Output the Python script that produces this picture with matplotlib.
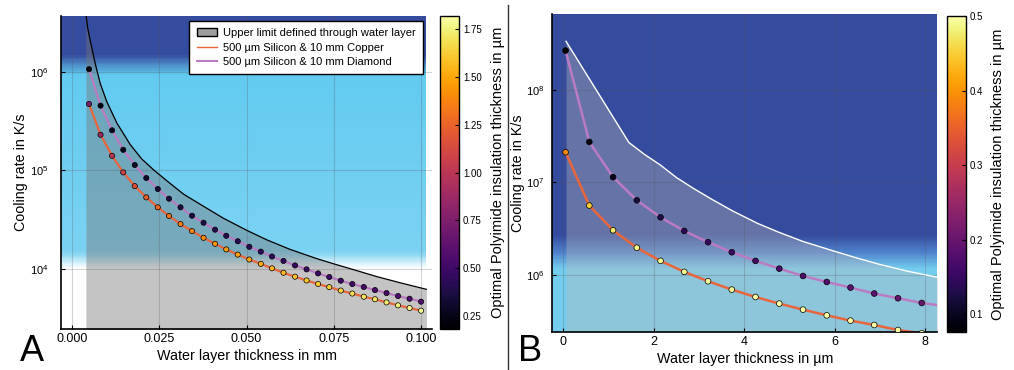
import numpy as np
import matplotlib
matplotlib.use("Agg")
import matplotlib.pyplot as plt
from matplotlib.colors import LinearSegmentedColormap, Normalize
from matplotlib.cm import ScalarMappable
from matplotlib.lines import Line2D
from matplotlib.patches import Patch
from matplotlib.ticker import NullLocator, FormatStrFormatter

plt.rcParams["font.family"] = ["Liberation Sans", "DejaVu Sans"]
plt.rcParams["mathtext.default"] = "regular"

COPPER_COLOR = "#e9653b"
DIAMOND_COLOR = "#bb7bc3"
DARK_BLUE = "#354b9e"

# ---- panel A: water layer thickness in mm ----
A_X = [0.0049, 0.0082, 0.0115, 0.0147, 0.0180, 0.0213, 0.0246, 0.0278, 0.0311, 0.0344,
       0.0377, 0.0410, 0.0442, 0.0475, 0.0508, 0.0541, 0.0573, 0.0606, 0.0639, 0.0672,
       0.0705, 0.0737, 0.0770, 0.0803, 0.0836, 0.0868, 0.0901, 0.0934, 0.0967, 0.1000]
A_DIAMOND = [1.06e6, 4.52e5, 2.54e5, 1.61e5, 1.13e5, 8.33e4, 6.44e4, 5.14e4, 4.20e4, 3.45e4,
             2.93e4, 2.49e4, 2.16e4, 1.90e4, 1.67e4, 1.49e4, 1.33e4, 1.20e4, 1.08e4, 9.85e3,
             8.97e3, 8.24e3, 7.56e3, 6.99e3, 6.52e3, 6.07e3, 5.66e3, 5.28e3, 4.96e3, 4.63e3]
A_COPPER = [4.70e5, 2.29e5, 1.40e5, 9.50e4, 6.90e4, 5.30e4, 4.20e4, 3.43e4, 2.84e4, 2.41e4,
            2.06e4, 1.79e4, 1.57e4, 1.39e4, 1.24e4, 1.12e4, 1.01e4, 9.10e3, 8.30e3, 7.60e3,
            7.00e3, 6.50e3, 6.00e3, 5.60e3, 5.20e3, 4.90e3, 4.55e3, 4.25e3, 3.99e3, 3.75e3]
A_DIAMOND_INS = [0.20, 0.22, 0.24, 0.26, 0.29, 0.31, 0.33, 0.35, 0.36, 0.37,
                 0.38, 0.39, 0.40, 0.41, 0.42, 0.43, 0.44, 0.45, 0.46, 0.47,
                 0.48, 0.49, 0.50, 0.51, 0.52, 0.53, 0.54, 0.55, 0.56, 0.57]
A_COPPER_INS = [0.72, 0.87, 1.00, 1.08, 1.15, 1.22, 1.27, 1.31, 1.35, 1.38,
                1.41, 1.44, 1.46, 1.48, 1.50, 1.52, 1.54, 1.56, 1.58, 1.60,
                1.62, 1.64, 1.66, 1.68, 1.70, 1.71, 1.73, 1.75, 1.77, 1.79]
A_LIMIT_X = [0.0040, 0.0045, 0.0052, 0.0060, 0.0067, 0.0081, 0.0100, 0.0129, 0.0167, 0.0200,
             0.0235, 0.0280, 0.0320, 0.0377, 0.0434, 0.0503, 0.0560, 0.0625, 0.0700, 0.0750,
             0.0810, 0.0874, 0.0940, 0.1015]
A_LIMIT_Y = [3.9e6, 2.8e6, 2.1e6, 1.55e6, 1.2e6, 7.6e5, 4.95e5, 3.0e5, 1.82e5, 1.3e5,
             1.0e5, 7.4e4, 5.7e4, 4.3e4, 3.25e4, 2.43e4, 1.95e4, 1.57e4, 1.27e4, 1.12e4,
             9.7e3, 8.3e3, 7.2e3, 6.18e3]
A_CBAR_TICKS = [0.25, 0.50, 0.75, 1.00, 1.25, 1.50, 1.75]

# ---- panel B: water layer thickness in um ----
B_X = [0.05, 0.575, 1.10, 1.625, 2.15, 2.675, 3.20, 3.725, 4.25, 4.775, 5.30, 5.825,
       6.35, 6.875, 7.40, 7.925]
B_DIAMOND = [2.66e8, 2.74e7, 1.14e7, 6.41e6, 4.20e6, 2.99e6, 2.26e6, 1.76e6, 1.42e6,
             1.17e6, 9.75e5, 8.40e5, 7.30e5, 6.30e5, 5.60e5, 4.98e5]
B_COPPER = [2.12e7, 5.62e6, 3.04e6, 1.97e6, 1.42e6, 1.08e6, 8.55e5, 6.94e5, 5.78e5,
            4.90e5, 4.22e5, 3.66e5, 3.21e5, 2.88e5, 2.54e5, 2.34e5]
B_LINE_END_X = 8.3
B_DIAMOND_END = 4.7e5
B_COPPER_END = 2.2e5
B_DIAMOND_INS = [0.08, 0.085, 0.10, 0.12, 0.13, 0.14, 0.15, 0.155, 0.16, 0.17,
                 0.175, 0.18, 0.185, 0.19, 0.195, 0.20]
B_COPPER_INS = [0.39, 0.45, 0.475, 0.485, 0.49, 0.49, 0.495, 0.495, 0.50, 0.50,
                0.50, 0.50, 0.50, 0.50, 0.50, 0.50]
B_LIMIT_X = [0.06, 1.45, 1.80, 2.14, 2.50, 2.88, 3.30, 3.75, 4.30, 4.76, 5.30, 6.00,
             6.50, 6.97, 7.60, 8.29]
B_LIMIT_Y = [3.35e8, 2.7e7, 2.0e7, 1.55e7, 1.13e7, 8.6e6, 6.5e6, 4.9e6, 3.6e6, 2.9e6,
             2.3e6, 1.8e6, 1.52e6, 1.31e6, 1.1e6, 9.4e5]
B_CBAR_TICKS = [0.1, 0.2, 0.3, 0.4, 0.5]

LABEL_X_A = "Water layer thickness in mm"
LABEL_X_B = "Water layer thickness in µm"
LABEL_Y = "Cooling rate in K/s"
LABEL_CBAR = "Optimal Polyimide insulation thickness in µm"


def draw_background(ax, x0, x1, y0, y1, stops):
    # stops: (log10 of cooling rate, colour), first/last must enclose the y range
    lo, hi = stops[0][0], stops[-1][0]
    cmap = LinearSegmentedColormap.from_list(
        "bg", [((v - lo) / (hi - lo), c) for v, c in stops])
    ly = np.linspace(np.log10(y0), np.log10(y1), 500)
    vals = ((ly[:-1] + ly[1:]) / 2)[:, None]
    ax.pcolormesh([x0, x1], 10 ** ly, vals, cmap=cmap, norm=Normalize(lo, hi),
                  shading="flat", antialiased=False, zorder=0)


def style_axes(ax, ypad):
    for side in ["top", "right"]:
        ax.spines[side].set_visible(False)
    for side in ["left", "bottom"]:
        ax.spines[side].set_linewidth(1.2)
    ax.set_yscale("log")
    ax.yaxis.set_minor_locator(NullLocator())
    ax.tick_params(direction="in", length=3, labelsize=9, pad=3)
    ax.tick_params(axis="y", pad=ypad, labelsize=8)
    ax.grid(True, color="#555555", alpha=0.25, lw=0.8)


def add_cbar(fig, rect, norm, ticks, fmt, label_x):
    cax = fig.add_axes(rect)
    cb = fig.colorbar(ScalarMappable(norm=norm, cmap="inferno"), cax=cax)
    cb.set_ticks(ticks)
    cb.ax.yaxis.set_major_formatter(FormatStrFormatter(fmt))
    cb.ax.tick_params(direction="in", length=3, labelsize=7, pad=3)
    cb.outline.set_linewidth(1.0)
    cb.set_label(LABEL_CBAR, fontsize=10.5)
    cb.ax.yaxis.set_label_coords(label_x, 0.5)
    return cb


fig = plt.figure(figsize=(10.14, 3.70), dpi=100)

# ---------------- panel A ----------------
axA = fig.add_axes([0.0599, 0.1108, 0.3664, 0.8468])
style_axes(axA, 9)
A_XLIM = (-0.0032, 0.1032)
A_YLIM = (2444, 3.7e6)
draw_background(axA, A_XLIM[0], 0.1015, A_YLIM[0], A_YLIM[1],
                [(3.3, "#ffffff"), (4.0, "#ffffff"), (4.17, "#7bd2f2"),
                 (5.97, "#62caf0"), (6.18, DARK_BLUE), (6.7, DARK_BLUE)])
axA.fill_between(A_LIMIT_X, A_YLIM[0] * 0.5, A_LIMIT_Y, color="#767676", alpha=0.43,
                 lw=0, zorder=1)
axA.plot(A_LIMIT_X, A_LIMIT_Y, color="black", lw=0.9, zorder=2)
normA = Normalize(0.182, 1.82)
axA.plot(A_X, A_COPPER, color=COPPER_COLOR, lw=1.6, zorder=2)
axA.plot(A_X, A_DIAMOND, color=DIAMOND_COLOR, lw=1.6, zorder=2)
axA.scatter(A_X, A_COPPER, c=A_COPPER_INS, cmap="inferno", norm=normA, s=14,
            edgecolors="black", linewidths=0.5, zorder=3)
axA.scatter(A_X, A_DIAMOND, c=A_DIAMOND_INS, cmap="inferno", norm=normA, s=14,
            edgecolors="black", linewidths=0.5, zorder=3)
axA.set_xlim(*A_XLIM)
axA.set_ylim(*A_YLIM)
axA.set_xticks([0.0, 0.025, 0.05, 0.075, 0.1])
axA.xaxis.set_major_formatter(FormatStrFormatter("%.3f"))
axA.set_xlabel(LABEL_X_A, fontsize=10.3)
axA.set_ylabel(LABEL_Y, fontsize=10.3)
axA.xaxis.set_label_coords(0.5, -0.065)
axA.yaxis.set_label_coords(-0.088, 0.5)

handles = [
    Patch(facecolor="#9e9e9e", edgecolor="black", lw=1.0),
    Line2D([], [], color=COPPER_COLOR, lw=1.0),
    Line2D([], [], color=DIAMOND_COLOR, lw=1.5),
]
labels = ["Upper limit defined through water layer",
          "500 µm Silicon & 10 mm Copper",
          "500 µm Silicon & 10 mm Diamond"]
leg = axA.legend(handles, labels, loc="upper right", bbox_to_anchor=(0.976, 0.984),
                 fontsize=8, frameon=True, fancybox=False, borderaxespad=0,
                 handlelength=1.8, handleheight=0.7, handletextpad=0.6,
                 labelspacing=0.42, borderpad=0.65)
leg.get_frame().set_edgecolor("black")
leg.get_frame().set_linewidth(1.0)
leg.get_frame().set_alpha(1)
leg.set_zorder(5)

add_cbar(fig, [0.4339, 0.1108, 0.0187, 0.8468], normA, A_CBAR_TICKS, "%.2f", 2.68)

# ---------------- panel B ----------------
axB = fig.add_axes([0.5447, 0.1019, 0.3797, 0.8601])
style_axes(axB, 6)
B_XLIM = (-0.243, 8.27)
B_YLIM = (2.4e5, 6.6e8)
draw_background(axB, B_XLIM[0], B_XLIM[1], B_YLIM[0], B_YLIM[1],
                [(5.3, "#74cdef"), (6.06, "#74cdef"), (6.24, "#4f82cc"),
                 (6.43, DARK_BLUE), (8.9, DARK_BLUE)])
axB.fill_between(B_LIMIT_X, B_YLIM[0] * 0.5, B_LIMIT_Y, color="#b9b9b9", alpha=0.37,
                 lw=0, zorder=1)
axB.plot(B_LIMIT_X, B_LIMIT_Y, color="white", lw=1.0, zorder=2)
normB = Normalize(0.0763, 0.5)
axB.plot(B_X + [B_LINE_END_X], B_COPPER + [B_COPPER_END], color=COPPER_COLOR, lw=1.8, zorder=2)
axB.plot(B_X + [B_LINE_END_X], B_DIAMOND + [B_DIAMOND_END], color=DIAMOND_COLOR, lw=1.8,
         zorder=2)
axB.scatter(B_X, B_COPPER, c=B_COPPER_INS, cmap="inferno", norm=normB, s=17,
            edgecolors="black", linewidths=0.5, zorder=3)
axB.scatter(B_X, B_DIAMOND, c=B_DIAMOND_INS, cmap="inferno", norm=normB, s=17,
            edgecolors="black", linewidths=0.5, zorder=3)
axB.set_xlim(*B_XLIM)
axB.set_ylim(*B_YLIM)
axB.set_xticks([0, 2, 4, 6, 8])
axB.set_xlabel(LABEL_X_B, fontsize=10.3)
axB.set_ylabel(LABEL_Y, fontsize=10.3)
axB.xaxis.set_label_coords(0.5, -0.062)
axB.yaxis.set_label_coords(-0.071, 0.5)

add_cbar(fig, [0.9336, 0.1027, 0.0187, 0.8541], normB, B_CBAR_TICKS, "%.1f", 2.33)

# separator and panel letters
fig.add_artist(Line2D([0.501, 0.501], [0.0, 0.986], color="#333333", lw=1.0))
fig.text(0.0197, 0.002, "A", fontsize=26, va="bottom")
fig.text(0.511, 0.002, "B", fontsize=26, va="bottom")

fig.savefig("out.png", dpi=100)
